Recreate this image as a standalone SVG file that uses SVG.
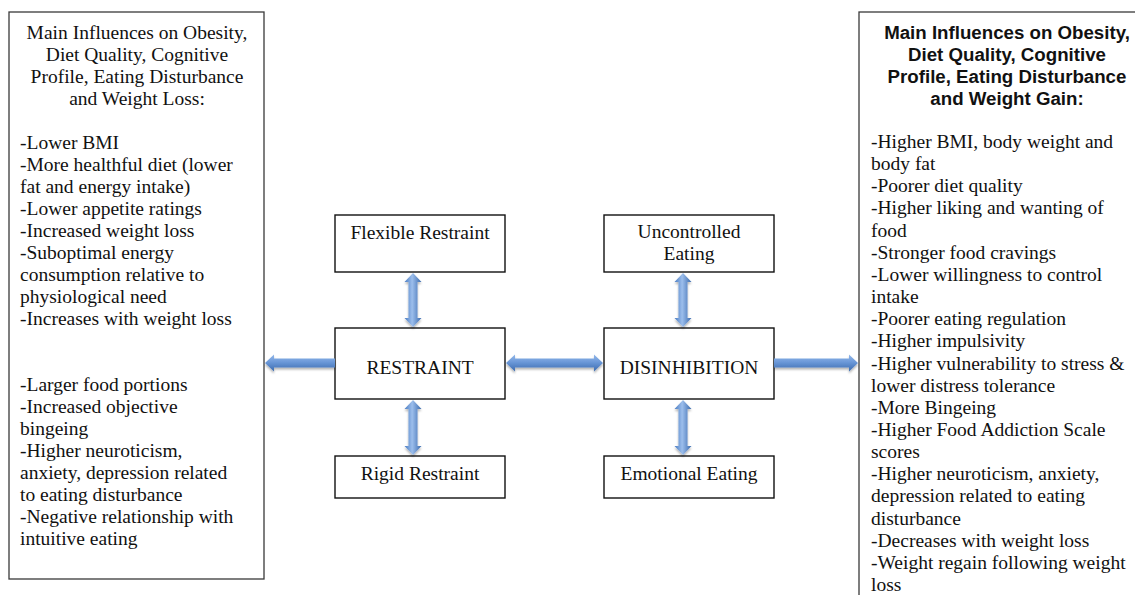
<svg xmlns="http://www.w3.org/2000/svg" width="1135" height="595" viewBox="0 0 1135 595">
<style>
.panel{fill:#fff;stroke:#3a3a3a;stroke-width:1.3}
.node{fill:#fff;stroke:#111;stroke-width:1.4}
.t{font-family:"Liberation Serif","Times New Roman",serif;font-size:19.5px;fill:#111}
.c{text-anchor:middle}
.h{font-family:"Liberation Sans",Arial,sans-serif;font-size:18.7px;font-weight:bold;fill:#111;text-anchor:middle}
.ah{fill:url(#gh);filter:url(#sh)}
.av{fill:url(#gv);filter:url(#sh)}
</style>
<defs>
<linearGradient id="gh" x1="0" y1="0" x2="0" y2="1">
<stop offset="0" stop-color="#93b8ea"/>
<stop offset="0.45" stop-color="#6b98d8"/>
<stop offset="1" stop-color="#3a6aae"/>
</linearGradient>
<linearGradient id="gv" x1="0" y1="0" x2="1" y2="0">
<stop offset="0" stop-color="#4a7cc2"/>
<stop offset="0.45" stop-color="#9cbeec"/>
<stop offset="1" stop-color="#3a6aae"/>
</linearGradient>
<filter id="sh" x="-20%" y="-20%" width="140%" height="160%">
<feDropShadow dx="0" dy="2" stdDeviation="1.2" flood-color="#000" flood-opacity="0.3"/>
</filter>
</defs>

<g id="left-panel">
<rect class="panel" x="9" y="12" width="255" height="567"/>
<text class="t c"><tspan x="137" y="39">Main Influences on Obesity,</tspan><tspan x="137" y="61">Diet Quality, Cognitive</tspan><tspan x="137" y="83">Profile, Eating Disturbance</tspan><tspan x="137" y="105">and Weight Loss:</tspan></text>
<text class="t"><tspan x="20" y="149">-Lower BMI</tspan><tspan x="20" y="171">-More healthful diet (lower</tspan><tspan x="20" y="193">fat and energy intake)</tspan><tspan x="20" y="215">-Lower appetite ratings</tspan><tspan x="20" y="237">-Increased weight loss</tspan><tspan x="20" y="259">-Suboptimal energy</tspan><tspan x="20" y="281">consumption relative to</tspan><tspan x="20" y="303">physiological need</tspan><tspan x="20" y="325">-Increases with weight loss</tspan><tspan x="20" y="391">-Larger food portions</tspan><tspan x="20" y="413">-Increased objective</tspan><tspan x="20" y="435">bingeing</tspan><tspan x="20" y="457">-Higher neuroticism,</tspan><tspan x="20" y="479">anxiety, depression related</tspan><tspan x="20" y="501">to eating disturbance</tspan><tspan x="20" y="523">-Negative relationship with</tspan><tspan x="20" y="545">intuitive eating</tspan></text>
</g>

<g id="right-panel">
<rect class="panel" x="859" y="12" width="300" height="600"/>
<text class="h"><tspan x="1007" y="39">Main Influences on Obesity,</tspan><tspan x="1007" y="61">Diet Quality, Cognitive</tspan><tspan x="1007" y="83">Profile, Eating Disturbance</tspan><tspan x="1007" y="105">and Weight Gain:</tspan></text>
<text class="t"><tspan x="871" y="148">-Higher BMI, body weight and</tspan><tspan x="871" y="170.15">body fat</tspan><tspan x="871" y="192.3">-Poorer diet quality</tspan><tspan x="871" y="214.45">-Higher liking and wanting of</tspan><tspan x="871" y="236.6">food</tspan><tspan x="871" y="258.75">-Stronger food cravings</tspan><tspan x="871" y="280.9">-Lower willingness to control</tspan><tspan x="871" y="303.05">intake</tspan><tspan x="871" y="325.2">-Poorer eating regulation</tspan><tspan x="871" y="347.35">-Higher impulsivity</tspan><tspan x="871" y="369.5">-Higher vulnerability to stress &amp;</tspan><tspan x="871" y="391.65">lower distress tolerance</tspan><tspan x="871" y="413.8">-More Bingeing</tspan><tspan x="871" y="435.95">-Higher Food Addiction Scale</tspan><tspan x="871" y="458.1">scores</tspan><tspan x="871" y="480.25">-Higher neuroticism, anxiety,</tspan><tspan x="871" y="502.4">depression related to eating</tspan><tspan x="871" y="524.55">disturbance</tspan><tspan x="871" y="546.7">-Decreases with weight loss</tspan><tspan x="871" y="568.85">-Weight regain following weight</tspan><tspan x="871" y="591">loss</tspan></text>
</g>

<g id="flexible-restraint">
<rect class="node" x="335" y="215" width="170" height="57"/>
<text class="t c" x="420" y="239">Flexible Restraint</text>
</g>
<g id="restraint">
<rect class="node" x="335" y="328" width="170" height="71"/>
<text class="t c" x="420" y="374">RESTRAINT</text>
</g>
<g id="rigid-restraint">
<rect class="node" x="335" y="456" width="170" height="42"/>
<text class="t c" x="420" y="480">Rigid Restraint</text>
</g>
<g id="uncontrolled-eating">
<rect class="node" x="604" y="215" width="170" height="57"/>
<text class="t c"><tspan x="689" y="238">Uncontrolled</tspan><tspan x="689" y="260">Eating</tspan></text>
</g>
<g id="disinhibition">
<rect class="node" x="604" y="328" width="170" height="71"/>
<text class="t c" x="689" y="374">DISINHIBITION</text>
</g>
<g id="emotional-eating">
<rect class="node" x="604" y="456" width="170" height="42"/>
<text class="t c" x="689" y="480">Emotional Eating</text>
</g>

<g id="connectors">
<path class="ah" d="M265,363 L274,354.5 L274,358.5 L335,358.5 L335,367.5 L274,367.5 L274,371.5 Z"/>
<path class="ah" d="M506,363 L515,354.5 L515,358.5 L594,358.5 L594,354.5 L603,363 L594,371.5 L594,367.5 L515,367.5 L515,371.5 Z"/>
<path class="ah" d="M774,358.5 L849,358.5 L849,354.5 L858,363 L849,371.5 L849,367.5 L774,367.5 Z"/>
<path class="av" d="M413,273 L421.5,282 L417.5,282 L417.5,318 L421.5,318 L413,327 L404.5,318 L408.5,318 L408.5,282 L404.5,282 Z"/>
<path class="av" d="M413,400 L421.5,409 L417.5,409 L417.5,446 L421.5,446 L413,455 L404.5,446 L408.5,446 L408.5,409 L404.5,409 Z"/>
<path class="av" d="M683,273 L691.5,282 L687.5,282 L687.5,318 L691.5,318 L683,327 L674.5,318 L678.5,318 L678.5,282 L674.5,282 Z"/>
<path class="av" d="M683,400 L691.5,409 L687.5,409 L687.5,446 L691.5,446 L683,455 L674.5,446 L678.5,446 L678.5,409 L674.5,409 Z"/>
</g>
</svg>
